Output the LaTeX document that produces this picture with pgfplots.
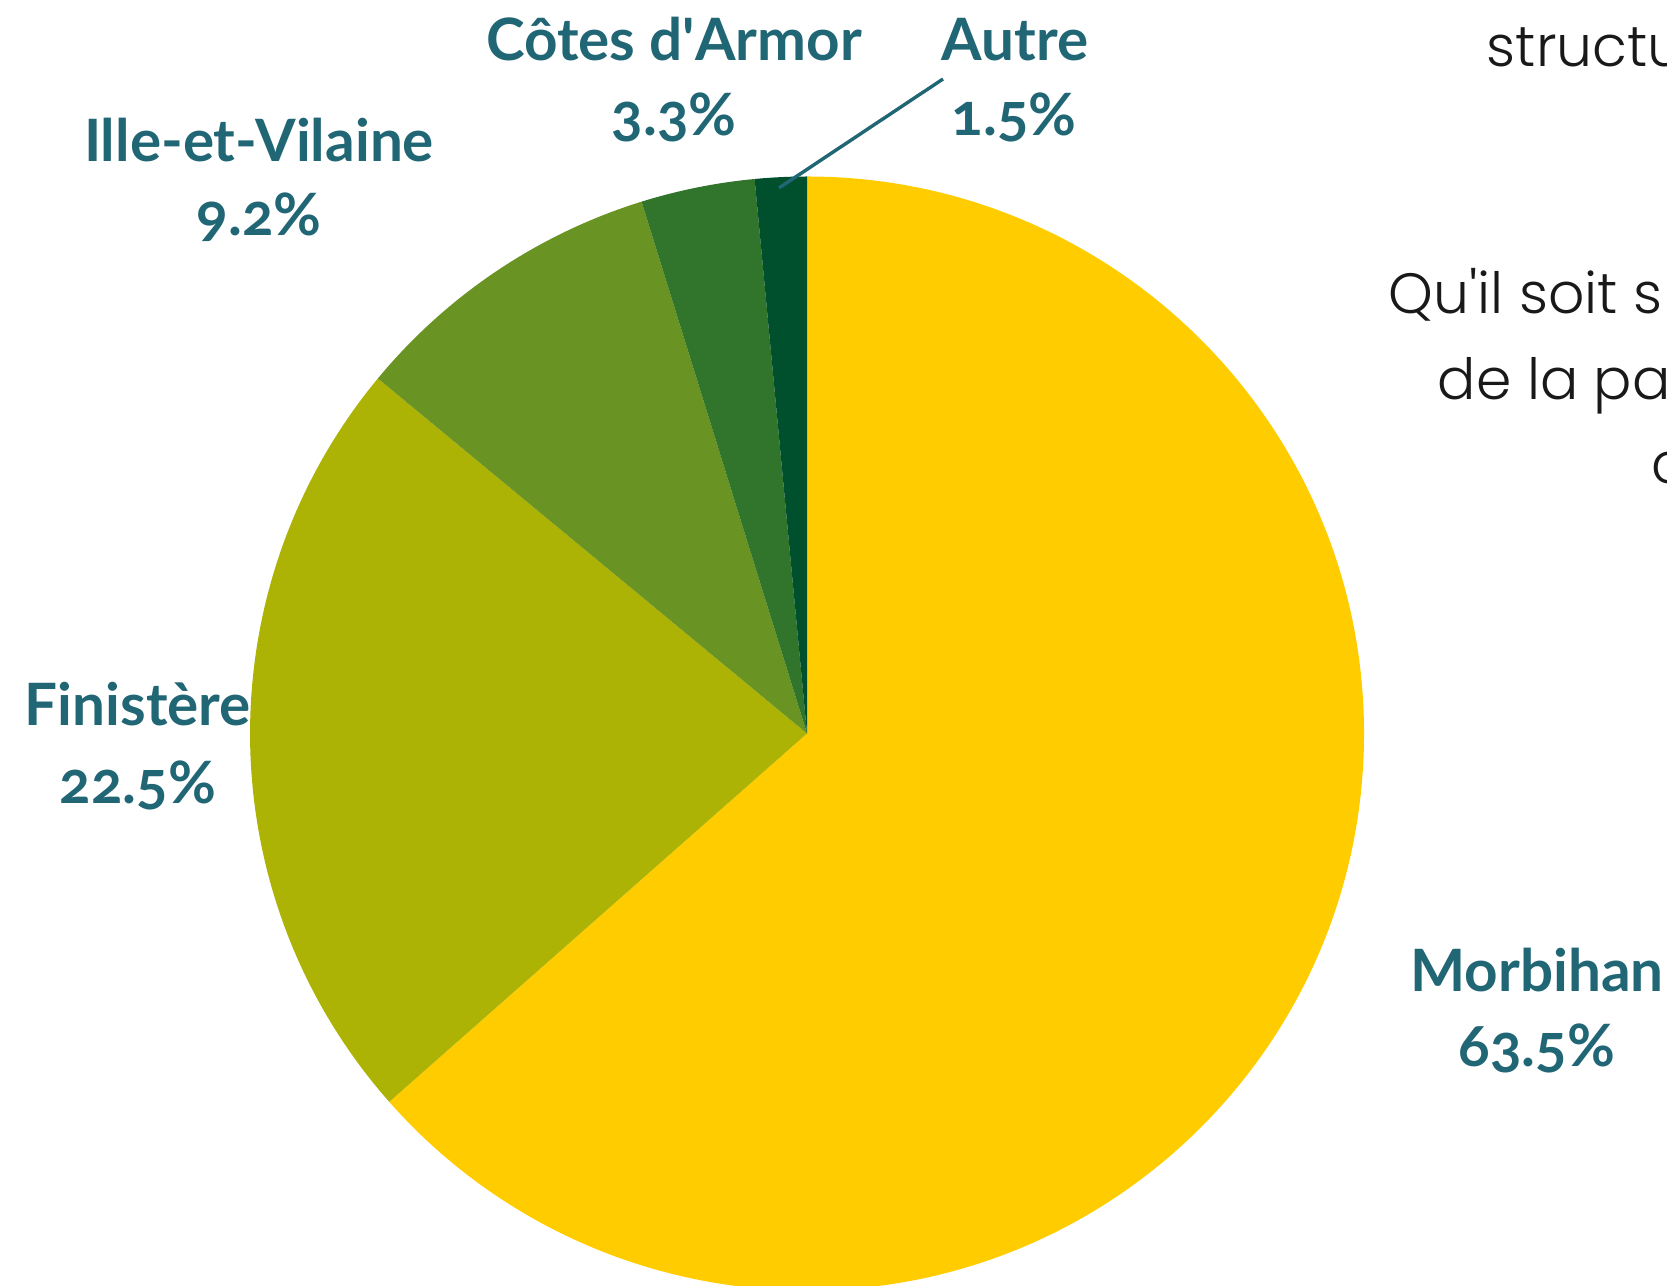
\documentclass[border=0pt]{standalone}
\usepackage{pgfplots}
\pgfplotsset{compat=1.18}
\usepackage{pgfplotstable}
\usepackage{fontspec}
\setmainfont{Poppins}
\newfontfamily\lightfont{Poppins Light}
\newfontfamily\labfont{Lato}[Numbers=OldStyle]

\definecolor{cmor}{HTML}{FFCC00}
\definecolor{cfin}{HTML}{ADB305}
\definecolor{cill}{HTML}{699423}
\definecolor{ccot}{HTML}{31742C}
\definecolor{caut}{HTML}{00502D}
\definecolor{labc}{RGB}{33,102,117}

\tikzset{
  lab/.style={font=\fontsize{14.6pt}{17pt}\labfont\bfseries, text=labc, inner sep=0pt, anchor=base},
  body/.style={font=\fontsize{14.2pt}{17pt}\lightfont, text=black!90, inner sep=0pt, anchor=base west},
}

% share of each department, in %
\pgfplotstableread{
dept value
Morbihan 63.5
Finistere 22.5
Ille 9.2
Cotes 3.3
Autre 1.5
}\piedata

\newcommand\slice[3]{%
  \fill[#1] (axis cs:807,551.5) -- (axis cs:{807+557*cos(#2)},{551.5+557*sin(#2)})
    arc[start angle=#2, end angle=#3, radius=139.25pt] -- cycle;}

\begin{document}
\begin{tikzpicture}
\useasboundingbox (0,0) rectangle (416.75pt,321.25pt);
\clip (0,0) rectangle (416.75pt,321.25pt);

\pgfplotstablegetelem{0}{value}\of\piedata \let\vA\pgfplotsretval
\pgfplotstablegetelem{1}{value}\of\piedata \let\vB\pgfplotsretval
\pgfplotstablegetelem{2}{value}\of\piedata \let\vC\pgfplotsretval
\pgfplotstablegetelem{3}{value}\of\piedata \let\vD\pgfplotsretval
\pgfplotstablegetelem{4}{value}\of\piedata \let\vE\pgfplotsretval
\pgfmathsetmacro\aA{90}
\pgfmathsetmacro\aB{\aA-3.6*\vA}
\pgfmathsetmacro\aC{\aB-3.6*\vB}
\pgfmathsetmacro\aD{\aC-3.6*\vC}
\pgfmathsetmacro\aE{\aD-3.6*\vD}
\pgfmathsetmacro\aF{\aE-3.6*\vE}

\begin{axis}[
    at={(0,0)}, anchor=south west,
    width=416.75pt, height=321.25pt,
    scale only axis,
    xmin=0, xmax=1667,
    ymin=0, ymax=1285,
    hide axis,
    clip=false,
]
\slice{cmor}{\aA}{\aB}
\slice{cfin}{\aB}{\aC}
\slice{cill}{\aC}{\aD}
\slice{ccot}{\aD}{\aE}
\slice{caut}{\aE}{\aF}

\draw[labc, line width=0.85pt] (axis cs:943,1206) -- (axis cs:779,1097);

\node[lab] at (axis cs:674,1224) {Côtes d\textquotesingle Armor};
\node[lab] at (axis cs:674,1149) {3.3\%};
\node[lab] at (axis cs:1015,1224) {Autre};
\node[lab] at (axis cs:1014,1149) {1.5\%};
\node[lab] at (axis cs:259,1123) {Ille-et-Vilaine};
\node[lab] at (axis cs:259,1049) {9.2\%};
\node[lab] at (axis cs:138,559) {Finistère};
\node[lab] at (axis cs:138,482) {22.5\%};
\node[lab] at (axis cs:1537,294) {Morbihan};
\node[lab] at (axis cs:1537,219) {63.5\%};

\node[body] at (axis cs:1486,1218) {structu};
\node[body] at (axis cs:1388,971) {Qu\textquotesingle il soit s};
\node[body] at (axis cs:1437,885) {de la pa};
\node[body] at (axis cs:1651,801) {c};
\end{axis}
\end{tikzpicture}
\end{document}
